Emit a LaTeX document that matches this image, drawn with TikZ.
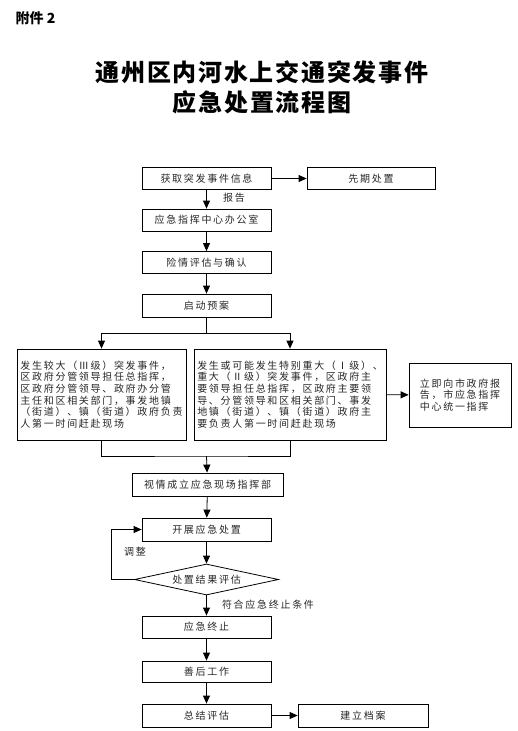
\documentclass[tikz,border=0pt]{standalone}
\usepackage{fontspec}
\newfontfamily\cjkplain{Noto Sans CJK SC}
\newfontfamily\cjk[LetterSpace = 17]{Noto Sans CJK SC}
\newfontfamily\cjktitle[LetterSpace = 7]{Noto Sans CJK SC}
\usetikzlibrary{arrows.meta,shapes.geometric}
\tikzset{
  box/.style = {draw, minimum width = 129pt, minimum height = 22pt,
                inner sep = 2pt, text = black!85,
                font = \cjk\fontsize{10}{11.7}\selectfont},
  bigbox/.style = {box, align = left, minimum height = 91pt},
  decide/.style = {box, diamond, aspect = 4.6, minimum width = 144pt,
                   minimum height = 31pt, inner sep = 0pt},
  note/.style = {text = black!85, font = \cjk\fontsize{10}{11.7}\selectfont}
}
\begin{document}
\begin{tikzpicture}[x = 1pt, y = -1pt, line width = .8pt,
                    >={Triangle[length = 8pt, width = 7pt]}]
      \useasboundingbox (0,0) rectangle (517,731);
      \node [anchor = west, font = \cjkplain\bfseries\fontsize{14}{14}\selectfont]
        (annex) at (12,18) {附件 2};
      \node [align = center, font = \cjktitle\bfseries\fontsize{24}{30}\selectfont]
        (title) at (262,87) {通州区内河水上交通突发事件\\应急处置流程图};
      \node [box] (info) at (206.5,178.5) {获取突发事件信息};
      \node [box, minimum width = 128pt] (prior) at (371,178.5) {先期处置};
      \node [box] (office) at (206.5,220) {应急指挥中心办公室};
      \node [box] (assess) at (206.5,262.5) {险情评估与确认};
      \node [box, minimum height = 23pt] (plan) at (206.5,305.5) {启动预案};
      \node [bigbox, minimum width = 169pt] (major) at (101.5,394.5)
        {发生较大（Ⅲ级）突发事件，\\区政府分管领导担任总指挥，\\区政府分管领导、政府办分管\\
         主任和区相关部门，事发地镇\\（街道）、镇（街道）政府负责\\人第一时间赶赴现场};
      \node [bigbox, minimum width = 192pt] (severe) at (290,394.5)
        {发生或可能发生特别重大（Ⅰ级）、\\重大（Ⅱ级）突发事件，区政府主\\要领导担任总指挥，区政府主要领\\
         导、分管领导和区相关部门、事发\\地镇（街道）、镇（街道）政府主\\要负责人第一时间赶赴现场};
      \node [bigbox, minimum width = 102pt, minimum height = 64pt] (city) at (460,395)
        {立即向市政府报\\告，市应急指挥\\中心统一指挥};
      \node [box, minimum width = 151pt, minimum height = 23pt] (command) at (207.5,484.5)
        {视情成立应急现场指挥部};
      \node [box, minimum height = 23pt] (handle) at (206.5,529.5) {开展应急处置};
      \node [decide] (evaluate) at (206.5,579.5) {处置结果评估};
      \node [box] (finish) at (206.5,627) {应急终止};
      \node [box, minimum height = 21pt] (after) at (206.5,671.5) {善后工作};
      \node [box, minimum height = 23pt] (summary) at (206.5,715.5) {总结评估};
      \node [box, minimum width = 130pt, minimum height = 23pt] (archive) at (363,715.5)
        {建立档案};
      \node [note] (report) at (234,198) {报告};
      \node [note] (adjust) at (135,552) {调整};
      \node [note] (meet) at (268,605) {符合应急终止条件};
      \coordinate (split) at (206.5,333);
      \coordinate (merge) at (206.5,456);
      \draw [->] (info) -- (prior);
      \draw [->] (info) -- (office);
      \draw [->] (office) -- (assess);
      \draw [->] (assess) -- (plan);
      \draw (plan) -- (split);
      \draw [->] (split) -| (major.north);
      \draw [->] (split) -| (severe.north);
      \draw [->] (severe) -- (city);
      \draw (major.south) |- (merge) -| (severe.south);
      \draw [->] (merge) -- (command);
      \draw [->] (command) -- (handle);
      \draw [->] (handle) -- (evaluate);
      \draw [->] (evaluate.west) -- ++(-23,0) |- (handle.west);
      \draw [->] (evaluate) -- (finish);
      \draw [->] (finish) -- (after);
      \draw [->] (after) -- (summary);
      \draw [->] (summary) -- (archive);
    \end{tikzpicture}
\end{document}
